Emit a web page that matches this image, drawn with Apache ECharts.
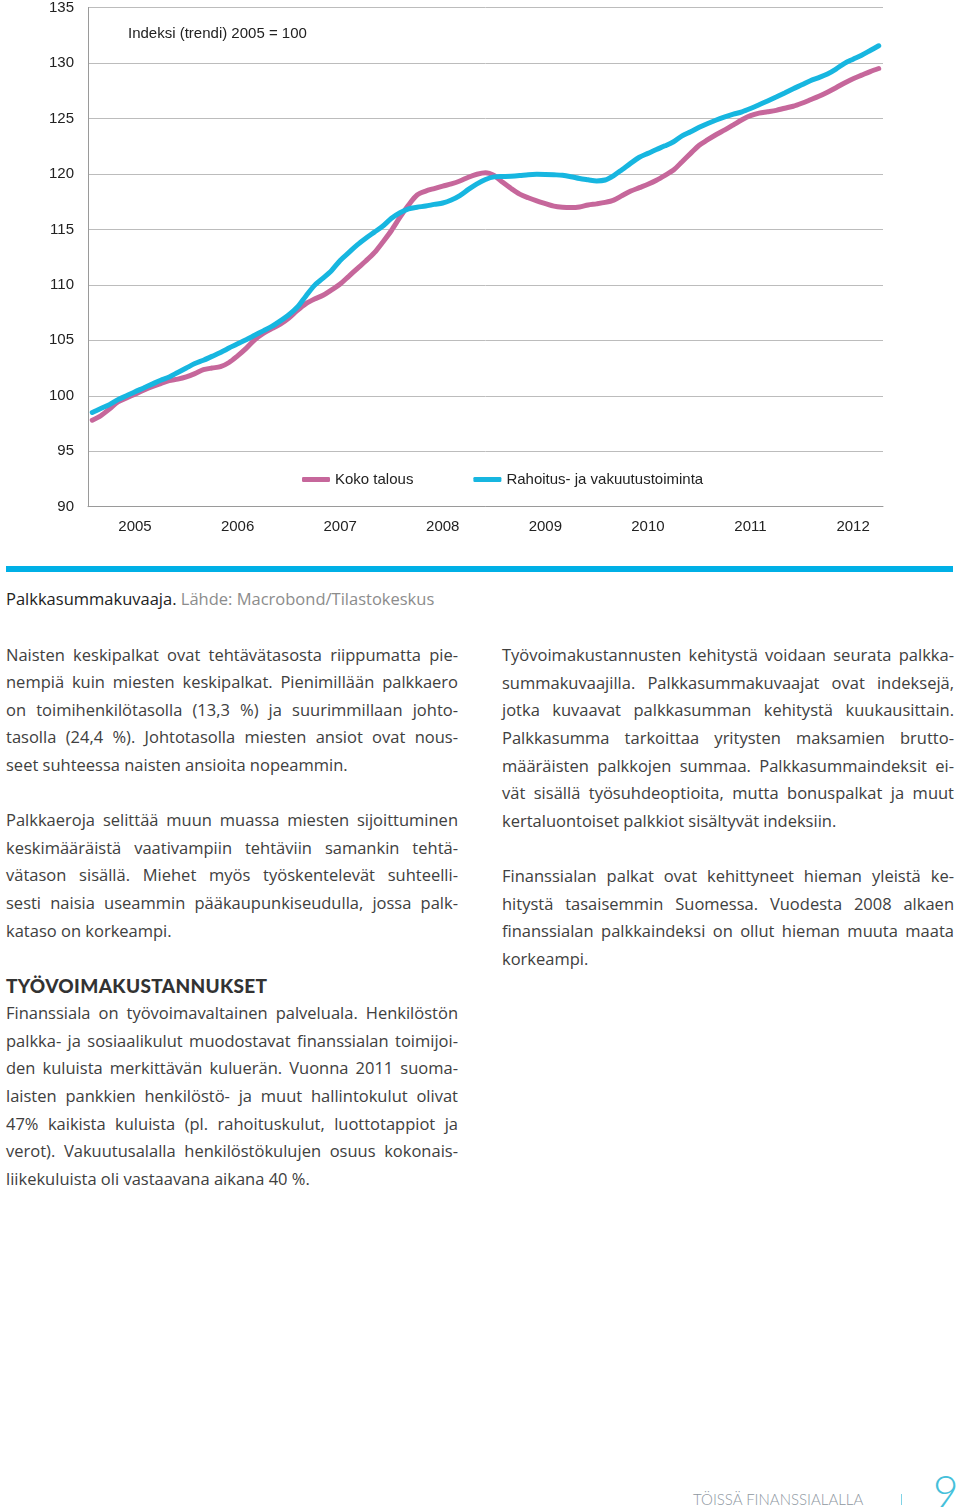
<!DOCTYPE html>
<html>
<head>
<meta charset="utf-8">
<title>Palkkasummakuvaaja</title>
<script src="https://cdn.jsdelivr.net/npm/echarts@6/dist/echarts.min.js"></script>
<style>
  body { margin: 0; background: #fff; width: 960px; height: 1511px; position: relative; overflow: hidden; }
  #chart { position: absolute; left: 0; top: 0; width: 960px; height: 560px; }
  .bar { position: absolute; left: 6px; top: 566px; width: 947px; height: 6px; background: #00b0e6; }
  .col { position: absolute; width: 452px; font-family: "Open Sans", "Noto Sans", sans-serif; font-size: 16.5px; color: #404040; }
  .ln { height: 27.6px; line-height: 27.6px; white-space: nowrap; text-align: justify; text-align-last: justify; }
  .ln.end { text-align-last: left; }
  .ln.head { font-family: Lato, sans-serif; font-weight: 900; font-size: 19px; letter-spacing: 0.35px; color: #333; text-align-last: left; }
  .grey { color: #8c8c8c; }
  .dark { color: #222; }
  .foot { position: absolute; left: 693px; top: 1490px; font-family: Lato, sans-serif; font-weight: 300; font-size: 15px; color: #8e979f; white-space: nowrap; }
  .sep { position: absolute; left: 901px; top: 1494px; width: 1px; height: 11px; background: #7fd3e6; }
  .page { position: absolute; left: 933px; top: 1468px; font-family: Lato, sans-serif; font-weight: 300; font-size: 44px; color: #45c0da; line-height: 44px; }
</style>
</head>
<body>
<div id="chart"></div>
<div class="bar"></div>

<div class="col" style="left:6px;top:585.4px">
  <div class="ln end"><span class="dark">Palkkasummakuvaaja.</span> <span class="grey">Lähde: Macrobond/Tilastokeskus</span></div>
  <div class="ln"></div>
  <div class="ln">Naisten keskipalkat ovat tehtävätasosta riippumatta pie-</div>
  <div class="ln">nempiä kuin miesten keskipalkat. Pienimillään palkkaero</div>
  <div class="ln">on toimihenkilötasolla (13,3 %) ja suurimmillaan johto-</div>
  <div class="ln">tasolla (24,4 %). Johtotasolla miesten ansiot ovat nous-</div>
  <div class="ln end">seet suhteessa naisten ansioita nopeammin.</div>
  <div class="ln"></div>
  <div class="ln">Palkkaeroja selittää muun muassa miesten sijoittuminen</div>
  <div class="ln">keskimääräistä vaativampiin tehtäviin samankin tehtä-</div>
  <div class="ln">vätason sisällä. Miehet myös työskentelevät suhteelli-</div>
  <div class="ln">sesti naisia useammin pääkaupunkiseudulla, jossa palk-</div>
  <div class="ln end">kataso on korkeampi.</div>
  <div class="ln"></div>
  <div class="ln head">TYÖVOIMAKUSTANNUKSET</div>
  <div class="ln">Finanssiala on työvoimavaltainen palveluala. Henkilöstön</div>
  <div class="ln">palkka- ja sosiaalikulut muodostavat finanssialan toimijoi-</div>
  <div class="ln">den kuluista merkittävän kuluerän. Vuonna 2011 suoma-</div>
  <div class="ln">laisten pankkien henkilöstö- ja muut hallintokulut olivat</div>
  <div class="ln">47% kaikista kuluista (pl. rahoituskulut, luottotappiot ja</div>
  <div class="ln">verot). Vakuutusalalla henkilöstökulujen osuus kokonais-</div>
  <div class="ln end">liikekuluista oli vastaavana aikana 40 %.</div>
</div>

<div class="col" style="left:502px;top:641.2px">
  <div class="ln">Työvoimakustannusten kehitystä voidaan seurata palkka-</div>
  <div class="ln">summakuvaajilla. Palkkasummakuvaajat ovat indeksejä,</div>
  <div class="ln">jotka kuvaavat palkkasumman kehitystä kuukausittain.</div>
  <div class="ln">Palkkasumma tarkoittaa yritysten maksamien brutto-</div>
  <div class="ln">määräisten palkkojen summaa. Palkkasummaindeksit ei-</div>
  <div class="ln">vät sisällä työsuhdeoptioita, mutta bonuspalkat ja muut</div>
  <div class="ln end">kertaluontoiset palkkiot sisältyvät indeksiin.</div>
  <div class="ln"></div>
  <div class="ln">Finanssialan palkat ovat kehittyneet hieman yleistä ke-</div>
  <div class="ln">hitystä tasaisemmin Suomessa. Vuodesta 2008 alkaen</div>
  <div class="ln">finanssialan palkkaindeksi on ollut hieman muuta maata</div>
  <div class="ln end">korkeampi.</div>
</div>

<div class="foot">TÖISSÄ FINANSSIALALLA</div>
<div class="sep"></div>
<div class="page">9</div>

<script>
// vuodet x-akselille, data kuukausittain 1/2005 - 9/2012
var years = ['2005', '2006', '2007', '2008', '2009', '2010', '2011', '2012']
var monthCount = 93

// Koko talous (indeksi, trendi)
var kokoTalous = [
  97.8, 98.2, 98.8, 99.45, 99.8, 100.15, 100.5, 100.82, 101.1, 101.37, 101.5, 101.7,
  102.0, 102.35, 102.5, 102.62, 103.0, 103.6, 104.27, 105.05, 105.62, 106.05, 106.45, 107.0,
  107.7, 108.3, 108.72, 109.06, 109.55, 110.07, 110.77, 111.47, 112.15, 112.9, 113.87, 114.9,
  116.1, 117.2, 118.1, 118.45, 118.68, 118.9, 119.1, 119.36, 119.7, 119.97, 120.1, 119.85,
  119.25, 118.68, 118.18, 117.85, 117.57, 117.33, 117.1, 117.0, 116.97, 117.02, 117.2, 117.3,
  117.43, 117.64, 118.05, 118.45, 118.76, 119.07, 119.43, 119.87, 120.35, 121.1, 121.85, 122.58,
  123.08, 123.55, 123.97, 124.42, 124.88, 125.25, 125.48, 125.6, 125.73, 125.92, 126.1, 126.37,
  126.68, 127.0, 127.37, 127.77, 128.2, 128.58, 128.9, 129.22, 129.5
]

// Rahoitus- ja vakuutustoiminta
var rahoitus = [
  98.5, 98.85, 99.2, 99.65, 100.0, 100.36, 100.7, 101.05, 101.4, 101.7, 102.1, 102.5,
  102.9, 103.2, 103.55, 103.9, 104.3, 104.7, 105.05, 105.45, 105.85, 106.25, 106.75, 107.3,
  108.0, 109.0, 109.95, 110.6, 111.3, 112.2, 112.9, 113.6, 114.2, 114.75, 115.3, 116.0,
  116.5, 116.85, 117.0, 117.1, 117.25, 117.38, 117.65, 118.05, 118.6, 119.1, 119.5, 119.73,
  119.76, 119.79, 119.85, 119.93, 119.96, 119.95, 119.92, 119.88, 119.75, 119.58, 119.47, 119.37,
  119.45, 119.85, 120.4, 120.97, 121.5, 121.85, 122.2, 122.53, 122.9, 123.43, 123.8, 124.2,
  124.55, 124.86, 125.13, 125.38, 125.6, 125.9, 126.23, 126.57, 126.93, 127.3, 127.68, 128.03,
  128.4, 128.68, 129.0, 129.45, 129.97, 130.34, 130.7, 131.12, 131.55
]

var seriesNames = ['Koko talous', 'Rahoitus- ja vakuutustoiminta']
var colors = ['#c6679b', '#17b6e0']

// kategoriat muotoa 2005-01
var months = []
for (var i = 0; i < monthCount; i++) {
  var m = (i % 12) + 1
  months.push(years[Math.floor(i / 12)] + '-' + (m < 10 ? '0' + m : m))
}

var chart = echarts.init(document.getElementById('chart'))
var font = '"Liberation Sans", Arial, sans-serif'

chart.setOption({
  animation: false,
  title: {
    text: 'Indeksi (trendi) 2005 = 100',
    left: 128,
    top: 26,
    padding: 0,
    textStyle: { fontFamily: font, fontSize: 15, fontWeight: 'normal', color: '#222' }
  },
  legend: {
    data: seriesNames,
    left: 302,
    top: 472,
    padding: 0,
    itemWidth: 28,
    itemHeight: 5,
    itemGap: 60,
    icon: 'roundRect',
    textStyle: { fontFamily: font, fontSize: 15, color: '#222' }
  },
  grid: { left: 88, right: 77, top: 7, bottom: 53.3, containLabel: false },
  xAxis: {
    type: 'category',
    data: months,
    boundaryGap: true,
    axisLine: { lineStyle: { color: '#9a9a9a', width: 1 } },
    axisTick: {
      inside: true,
      length: 4,
      interval: function (idx) { return idx % 12 === 0 },
      lineStyle: { color: '#9a9a9a' }
    },
    axisLabel: {
      interval: function (idx) { return idx % 12 === 5 },
      formatter: function (v) { return v.slice(0, 4) },
      margin: 13,
      fontFamily: font,
      fontSize: 15,
      color: '#222'
    },
    splitLine: { show: false }
  },
  yAxis: {
    type: 'value',
    min: 90,
    max: 135,
    interval: 5,
    axisLine: { show: true, lineStyle: { color: '#9a9a9a', width: 1 } },
    axisTick: { show: false },
    axisLabel: { margin: 14, fontFamily: font, fontSize: 15, color: '#222' },
    splitLine: { lineStyle: { color: '#bcbcbc', width: 1 } }
  },
  series: [
    {
      name: seriesNames[0],
      type: 'line',
      data: kokoTalous,
      smooth: 0.3,
      showSymbol: false,
      color: colors[0],
      lineStyle: { width: 5, color: colors[0], cap: 'round' }
    },
    {
      name: seriesNames[1],
      type: 'line',
      data: rahoitus,
      smooth: 0.3,
      showSymbol: false,
      color: colors[1],
      lineStyle: { width: 5, color: colors[1], cap: 'round' }
    }
  ]
})

// liian pitkät rivit: kiristetään kirjainväliä kunnes mahtuu
var lines = document.querySelectorAll('.ln')
for (var k = 0; k < lines.length; k++) {
  var el = lines[k]
  var ls = 0
  while (el.scrollWidth > el.clientWidth && ls > -1.5) {
    ls -= 0.05
    el.style.letterSpacing = ls + 'px'
  }
}
</script>
</body>
</html>
